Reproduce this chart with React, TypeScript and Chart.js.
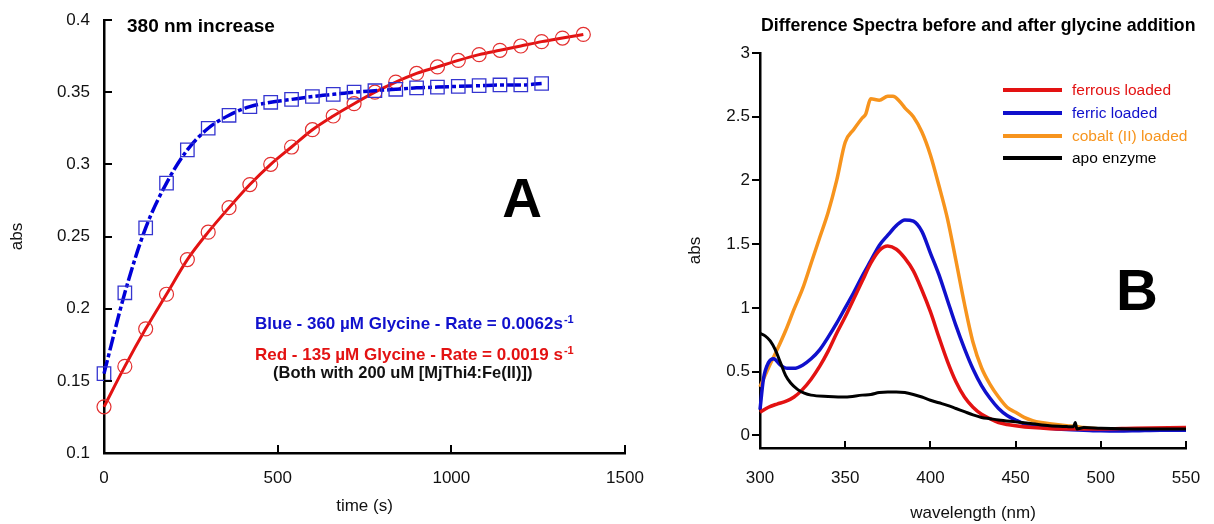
import React, { useEffect, useRef } from "react";
import { Chart, registerables } from "chart.js";

Chart.register(...registerables);

const FONT = "'Liberation Sans', Arial, Helvetica, sans-serif";

// ---------------- Panel A: 380 nm increase ----------------
const timeBlue = [0, 60, 120, 180, 240, 300, 360, 420, 480, 540, 600, 660, 720, 780, 840, 900, 960, 1020, 1080, 1140, 1200, 1260];
const absBlue = [0.155, 0.211, 0.256, 0.287, 0.31, 0.325, 0.334, 0.34, 0.343, 0.345, 0.347, 0.3485, 0.35, 0.351, 0.352, 0.353, 0.3535, 0.354, 0.3545, 0.355, 0.355, 0.356];
const timeRed = [0, 60, 120, 180, 240, 300, 360, 420, 480, 540, 600, 660, 720, 780, 840, 900, 960, 1020, 1080, 1140, 1200, 1260, 1320, 1380];
const absRed = [0.132, 0.16, 0.186, 0.21, 0.234, 0.253, 0.27, 0.286, 0.3, 0.312, 0.324, 0.3335, 0.342, 0.35, 0.357, 0.363, 0.3675, 0.372, 0.376, 0.379, 0.382, 0.385, 0.3875, 0.39];
const timeTicks = [0, 500, 1000, 1500];
const absTicksA = [0.1, 0.15, 0.2, 0.25, 0.3, 0.35, 0.4];
const titleA = "380 nm increase";
const noteBlue = "Blue - 360 \u00b5M Glycine - Rate = 0.0062s";
const noteRed = "Red - 135 \u00b5M Glycine - Rate = 0.0019 s";
const noteBoth = "(Both with 200 uM [MjThi4:Fe(II)])";

// ---------------- Panel B: difference spectra ----------------
const ferrousNm = [300, 305, 310, 315, 320, 325, 330, 335, 340, 345, 350, 355, 360, 365, 370, 375, 380, 385, 390, 395, 400, 405, 410, 415, 420, 425, 430, 435, 440, 445, 450, 460, 470, 480, 500, 520, 550];
const ferrousAbs = [0.18, 0.22, 0.245, 0.265, 0.3, 0.36, 0.44, 0.54, 0.66, 0.8, 0.93, 1.07, 1.21, 1.35, 1.45, 1.485, 1.46, 1.39, 1.29, 1.14, 0.97, 0.77, 0.58, 0.42, 0.3, 0.22, 0.165, 0.13, 0.1, 0.085, 0.075, 0.06, 0.052, 0.05, 0.05, 0.055, 0.06];
const ferricNm = [300, 302, 305, 308, 312, 316, 320, 325, 330, 335, 340, 345, 350, 355, 360, 365, 370, 375, 380, 385, 390, 395, 400, 405, 410, 415, 420, 425, 430, 435, 440, 445, 450, 455, 460, 470, 480, 490, 500, 510, 520, 535, 550];
const ferricAbs = [0.2, 0.44, 0.57, 0.6, 0.55, 0.525, 0.525, 0.55, 0.6, 0.67, 0.77, 0.88, 1.0, 1.12, 1.25, 1.37, 1.49, 1.57, 1.645, 1.69, 1.68, 1.6, 1.43, 1.26, 1.06, 0.86, 0.68, 0.52, 0.39, 0.29, 0.21, 0.155, 0.12, 0.09, 0.075, 0.055, 0.045, 0.04, 0.035, 0.033, 0.035, 0.04, 0.04];
const cobaltNm = [300, 305, 310, 315, 320, 325, 330, 335, 340, 345, 350, 355, 360, 362, 365, 370, 375, 378, 382, 385, 390, 395, 400, 405, 410, 415, 420, 425, 430, 435, 440, 445, 450, 455, 460, 465, 470, 480, 485, 490, 500, 510, 520, 535, 550];
const cobaltAbs = [0.38, 0.53, 0.67, 0.82, 0.99, 1.15, 1.35, 1.55, 1.75, 2.0, 2.3, 2.4, 2.49, 2.52, 2.64, 2.63, 2.66, 2.66, 2.62, 2.57, 2.5, 2.38, 2.2, 1.96, 1.7, 1.37, 1.03, 0.73, 0.53, 0.4, 0.3, 0.22, 0.18, 0.14, 0.115, 0.1, 0.09, 0.075, 0.07, 0.06, 0.05, 0.045, 0.04, 0.04, 0.04];
const apoNm = [300, 303, 306, 309, 312, 315, 318, 322, 326, 330, 340, 350, 360, 365, 370, 375, 380, 385, 390, 395, 400, 405, 410, 415, 420, 425, 430, 435, 440, 450, 460, 470, 480, 484, 485, 486, 490, 500, 520, 550];
const apoAbs = [0.8, 0.78, 0.74, 0.67, 0.57, 0.47, 0.41, 0.36, 0.33, 0.315, 0.305, 0.3, 0.315, 0.32, 0.335, 0.34, 0.34, 0.335, 0.32, 0.3, 0.275, 0.255, 0.235, 0.21, 0.185, 0.16, 0.14, 0.13, 0.12, 0.105, 0.09, 0.075, 0.068, 0.066, 0.1, 0.05, 0.06, 0.055, 0.05, 0.05];
const seriesNamesB = ["ferrous loaded", "ferric loaded", "cobalt (II) loaded", "apo enzyme"];
const nmTicks = [300, 350, 400, 450, 500, 550];
const absTicksB = [0, 0.5, 1, 1.5, 2, 2.5, 3];
const titleB = "Difference Spectra before and after glycine addition";

const RED = "#e31212";
const BLUE = "#1010cc";
const ORANGE = "#f7941d";
const BLACK = "#000000";

const toPts = (xs: number[], ys: number[]) => xs.map((x, i) => ({ x, y: ys[i] }));

function PanelA() {
  const ref = useRef<HTMLCanvasElement>(null);
  useEffect(() => {
    const annot = {
      id: "annotA",
      afterDraw(chart: any) {
        const { ctx, chartArea, scales } = chart;
        ctx.save();
        ctx.strokeStyle = "#000";
        ctx.lineWidth = 2;
        ctx.beginPath();
        for (const v of timeTicks) {
          const px = Math.round(scales.x.getPixelForValue(v));
          ctx.moveTo(px, chartArea.bottom);
          ctx.lineTo(px, chartArea.bottom - 8);
        }
        for (const v of absTicksA) {
          const py = Math.round(scales.y.getPixelForValue(v));
          ctx.moveTo(chartArea.left, py);
          ctx.lineTo(chartArea.left + 8, py);
        }
        ctx.stroke();
        ctx.textBaseline = "alphabetic";
        ctx.textAlign = "left";
        ctx.fillStyle = "#000";
        ctx.font = `bold 19px ${FONT}`;
        ctx.fillText(titleA, 127, 32);
        ctx.textAlign = "center";
        ctx.font = `bold 55px ${FONT}`;
        ctx.fillText("A", 522, 217);
        ctx.textAlign = "left";
        const note = (t: string, x: number, y: number, c: string) => {
          ctx.font = `bold 17px ${FONT}`;
          ctx.fillStyle = c;
          ctx.fillText(t, x, y);
          const w = ctx.measureText(t).width;
          ctx.font = `bold 11px ${FONT}`;
          ctx.fillText("-1", x + w + 1, y - 6);
        };
        note(noteBlue, 255, 329, BLUE);
        note(noteRed, 255, 360, RED);
        ctx.font = `bold 16.5px ${FONT}`;
        ctx.fillStyle = "#111";
        ctx.fillText(noteBoth, 273, 378);
        ctx.restore();
      },
    };
    const chart = new Chart(ref.current as HTMLCanvasElement, {
      type: "scatter",
      data: {
        datasets: [
          {
            label: "Blue - 360 \u00b5M Glycine",
            data: toPts(timeBlue, absBlue),
            showLine: true,
            borderColor: "#0000d8",
            borderWidth: 3.5,
            borderDash: [14, 3, 4, 3],
            cubicInterpolationMode: "monotone",
            pointStyle: "rect",
            pointRadius: 9.5,
            pointBorderWidth: 1.3,
            pointBorderColor: "#3535d0",
            pointBackgroundColor: "rgba(0,0,0,0)",
            clip: false,
          } as any,
          {
            label: "Red - 135 \u00b5M Glycine",
            data: toPts(timeRed, absRed),
            showLine: true,
            borderColor: RED,
            borderWidth: 3,
            cubicInterpolationMode: "monotone",
            pointStyle: "circle",
            pointRadius: 7,
            pointBorderWidth: 1.2,
            pointBorderColor: "#e33030",
            pointBackgroundColor: "rgba(0,0,0,0)",
            clip: false,
          } as any,
        ],
      },
      options: {
        responsive: false,
        animation: false,
        devicePixelRatio: 1,
        layout: { autoPadding: false, padding: { top: 20, right: 25, left: 0, bottom: 0 } },
        plugins: { legend: { display: false }, tooltip: { enabled: false }, title: { display: false } },
        scales: {
          x: {
            type: "linear",
            min: 0,
            max: 1500,
            afterFit: (s: any) => { s.height = 71; },
            afterBuildTicks: (s: any) => { s.ticks = timeTicks.map((v) => ({ value: v })); },
            grid: { display: false, drawTicks: true, tickLength: 15 },
            border: { display: true, color: "#000", width: 2.5 },
            ticks: { padding: 0, color: "#111", font: { family: FONT, size: 17 }, maxRotation: 0, autoSkip: false, callback: (v: any) => String(v) },
            title: { display: true, text: "time (s)", color: "#111", font: { family: FONT, size: 17 }, padding: { top: 0, bottom: 7 } },
          },
          y: {
            type: "linear",
            min: 0.1,
            max: 0.4,
            afterFit: (s: any) => { s.width = 104; },
            afterBuildTicks: (s: any) => { s.ticks = absTicksA.map((v) => ({ value: v })); },
            grid: { display: false, drawTicks: true, tickLength: 14 },
            border: { display: true, color: "#000", width: 2.5 },
            ticks: { padding: 0, color: "#111", font: { family: FONT, size: 17 }, autoSkip: false, callback: (v: any) => String(Math.round(Number(v) * 100) / 100) },
            title: { display: true, text: "abs", color: "#111", font: { family: FONT, size: 17 }, padding: { top: 7, bottom: 0 } },
          },
        },
      } as any,
      plugins: [annot],
    });
    return () => chart.destroy();
  }, []);
  return <canvas ref={ref} width={650} height={524} style={{ position: "absolute", left: 0, top: 0, width: 650, height: 524 }} />;
}

function PanelB() {
  const ref = useRef<HTMLCanvasElement>(null);
  useEffect(() => {
    const colors = [RED, BLUE, ORANGE, BLACK];
    const annot = {
      id: "annotB",
      afterDraw(chart: any) {
        const { ctx, chartArea, scales } = chart;
        ctx.save();
        ctx.strokeStyle = "#000";
        ctx.lineWidth = 2;
        ctx.beginPath();
        for (const v of nmTicks) {
          const px = Math.round(scales.x.getPixelForValue(v));
          ctx.moveTo(px, chartArea.bottom);
          ctx.lineTo(px, chartArea.bottom - 7);
        }
        ctx.stroke();
        ctx.fillStyle = "#000";
        ctx.textAlign = "left";
        ctx.textBaseline = "alphabetic";
        ctx.font = `bold 17.7px ${FONT}`;
        ctx.fillText(titleB, 101, 31);
        ctx.textAlign = "center";
        ctx.font = `bold 58px ${FONT}`;
        ctx.fillText("B", 477, 310);
        const rows = [90, 113, 136, 158];
        ctx.textAlign = "left";
        ctx.textBaseline = "middle";
        ctx.font = `15.5px ${FONT}`;
        seriesNamesB.forEach((name, i) => {
          ctx.strokeStyle = colors[i];
          ctx.lineWidth = 4;
          ctx.beginPath();
          ctx.moveTo(343, rows[i]);
          ctx.lineTo(402, rows[i]);
          ctx.stroke();
          ctx.fillStyle = colors[i];
          ctx.fillText(name, 412, rows[i] + 1);
        });
        ctx.restore();
      },
    };
    const common = { showLine: true, pointRadius: 0, borderWidth: 3.5, cubicInterpolationMode: "monotone", clip: false };
    const chart = new Chart(ref.current as HTMLCanvasElement, {
      type: "scatter",
      data: {
        datasets: [
          { ...common, label: seriesNamesB[3], data: toPts(apoNm, apoAbs), borderColor: BLACK, borderWidth: 3 } as any,
          { ...common, label: seriesNamesB[0], data: toPts(ferrousNm, ferrousAbs), borderColor: RED } as any,
          { ...common, label: seriesNamesB[1], data: toPts(ferricNm, ferricAbs), borderColor: BLUE } as any,
          { ...common, label: seriesNamesB[2], data: toPts(cobaltNm, cobaltAbs), borderColor: ORANGE } as any,
        ],
      },
      options: {
        responsive: false,
        animation: false,
        devicePixelRatio: 1,
        layout: { autoPadding: false, padding: { top: 53, right: 28, left: 0, bottom: 0 } },
        plugins: { legend: { display: false }, tooltip: { enabled: false }, title: { display: false } },
        scales: {
          x: {
            type: "linear",
            min: 300,
            max: 550,
            afterFit: (s: any) => { s.height = 76; },
            afterBuildTicks: (s: any) => { s.ticks = nmTicks.map((v) => ({ value: v })); },
            grid: { display: false, drawTicks: true, tickLength: 20 },
            border: { display: true, color: "#000", width: 2.5 },
            ticks: { padding: 0, color: "#111", font: { family: FONT, size: 17 }, maxRotation: 0, autoSkip: false, callback: (v: any) => String(v) },
            title: { display: true, text: "wavelength (nm)", color: "#111", font: { family: FONT, size: 17 }, padding: { top: 0, bottom: 0 } },
          },
          y: {
            type: "linear",
            min: -0.1,
            max: 3,
            afterFit: (s: any) => { s.width = 100; },
            afterBuildTicks: (s: any) => { s.ticks = absTicksB.map((v) => ({ value: v })); },
            grid: { display: true, drawOnChartArea: false, drawTicks: true, tickLength: 8, color: "#000", lineWidth: 2 },
            border: { display: true, color: "#000", width: 2.5 },
            ticks: { padding: 2, color: "#111", font: { family: FONT, size: 17 }, autoSkip: false, callback: (v: any) => String(v) },
            title: { display: true, text: "abs", color: "#111", font: { family: FONT, size: 17 }, padding: { top: 25, bottom: 0 } },
          },
        },
      } as any,
      plugins: [annot],
    });
    return () => chart.destroy();
  }, []);
  return <canvas ref={ref} width={554} height={524} style={{ position: "absolute", left: 660, top: 0, width: 554, height: 524 }} />;
}

export default function App() {
  return (
    <div style={{ position: "absolute", left: 0, top: 0, width: 1214, height: 524, background: "#ffffff", overflow: "hidden" }}>
      <PanelA />
      <PanelB />
    </div>
  );
}
